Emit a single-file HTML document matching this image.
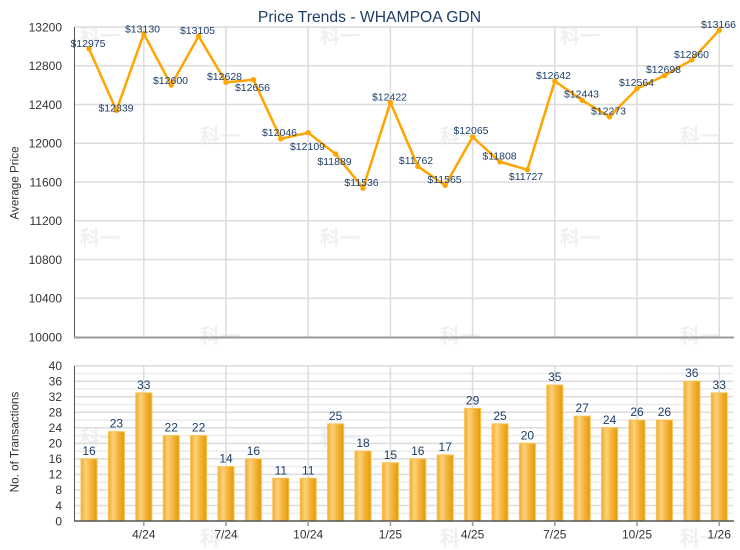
<!DOCTYPE html>
<html>
<head>
<meta charset="utf-8">
<style>
  html,body{margin:0;padding:0;background:#fff;}
  svg{display:block;}
  text{font-family:"Liberation Sans", Arial, sans-serif;}
  .wm{font-family:"Noto Sans CJK SC","WenQuanYi Zen Hei",sans-serif;font-weight:bold;font-size:20px;fill:#f0f0f0;}
  .tick{font-size:12px;fill:#333;}
  .dl{font-size:10.5px;fill:#1d3f6a;text-anchor:middle;}
  .bl{font-size:12px;fill:#1d3f6a;text-anchor:middle;}
</style>
</head>
<body>
<svg width="740" height="550" viewBox="0 0 740 550" xmlns="http://www.w3.org/2000/svg">
  <defs>
    <linearGradient id="bg" x1="0" y1="0" x2="1" y2="0">
      <stop offset="0" stop-color="#f1aa28"/>
      <stop offset="0.3" stop-color="#fdd27d"/>
      <stop offset="0.6" stop-color="#f5b53e"/>
      <stop offset="1" stop-color="#e39a08"/>
    </linearGradient>
  </defs>
  <rect x="0" y="0" width="740" height="550" fill="#fff"/>

  <!-- watermarks -->
  <g class="wm">
    <text x="80" y="43">科一</text><text x="320" y="43">科一</text><text x="560" y="43">科一</text>
    <text x="200" y="143">科一</text><text x="440" y="143">科一</text><text x="680" y="143">科一</text>
    <text x="80" y="245">科一</text><text x="320" y="245">科一</text><text x="560" y="245">科一</text>
    <text x="200" y="343">科一</text><text x="440" y="343">科一</text><text x="680" y="343">科一</text>
    <text x="80" y="445">科一</text><text x="320" y="445">科一</text><text x="560" y="445">科一</text>
    <text x="200" y="545">科一</text><text x="440" y="545">科一</text><text x="680" y="545">科一</text>
  </g>

  <!-- Title -->
  <text x="369.5" y="22" text-anchor="middle" style="font-size:15.7px;fill:#1f3d66;">Price Trends - WHAMPOA GDN</text>

  <!-- ===== TOP CHART ===== -->
  <g stroke="#dcdcdc" stroke-width="1.5">
    <line x1="74.5" y1="27" x2="733" y2="27"/>
    <line x1="74.5" y1="65.75" x2="733" y2="65.75"/>
    <line x1="74.5" y1="104.5" x2="733" y2="104.5"/>
    <line x1="74.5" y1="143.25" x2="733" y2="143.25"/>
    <line x1="74.5" y1="182" x2="733" y2="182"/>
    <line x1="74.5" y1="220.75" x2="733" y2="220.75"/>
    <line x1="74.5" y1="259.5" x2="733" y2="259.5"/>
    <line x1="74.5" y1="298.25" x2="733" y2="298.25"/>
    <line x1="143.8" y1="27" x2="143.8" y2="337"/>
    <line x1="226" y1="27" x2="226" y2="337"/>
    <line x1="308.2" y1="27" x2="308.2" y2="337"/>
    <line x1="390.4" y1="27" x2="390.4" y2="337"/>
    <line x1="472.6" y1="27" x2="472.6" y2="337"/>
    <line x1="554.8" y1="27" x2="554.8" y2="337"/>
    <line x1="637" y1="27" x2="637" y2="337"/>
    <line x1="719.2" y1="27" x2="719.2" y2="337"/>
  </g>
  <line x1="74.5" y1="27" x2="74.5" y2="337" stroke="#555" stroke-width="1"/>
  <line x1="74" y1="337.5" x2="734" y2="337.5" stroke="#999" stroke-width="2"/>

  <g class="tick" text-anchor="end">
    <text x="62" y="31.3">13200</text>
    <text x="62" y="70.05">12800</text>
    <text x="62" y="108.8">12400</text>
    <text x="62" y="147.55">12000</text>
    <text x="62" y="186.3">11600</text>
    <text x="62" y="225.05">11200</text>
    <text x="62" y="263.8">10800</text>
    <text x="62" y="302.55">10400</text>
    <text x="62" y="341.3">10000</text>
  </g>
  <text transform="translate(18.5,183) rotate(-90)" text-anchor="middle" style="font-size:11.7px;fill:#333;">Average Price</text>

  <polyline fill="none" stroke="#ffa500" stroke-width="2.5" stroke-linejoin="round"
    points="89,48.8 116.4,110.4 143.8,33.8 171.2,85.1 198.6,36.2 226,82.4 253.4,79.7 280.8,138.8 308.2,132.7 335.6,154.0 363,188.2 390.4,102.4 417.8,166.3 445.2,185.4 472.6,137.0 500,161.9 527.4,169.7 554.8,81.1 582.2,100.3 609.6,116.8 637,88.6 664.4,75.6 691.8,59.9 719.2,30.3"/>
  <g fill="#ffa500">
    <circle cx="89" cy="48.8" r="2.7"/><circle cx="116.4" cy="110.4" r="2.7"/><circle cx="143.8" cy="33.8" r="2.7"/>
    <circle cx="171.2" cy="85.1" r="2.7"/><circle cx="198.6" cy="36.2" r="2.7"/><circle cx="226" cy="82.4" r="2.7"/>
    <circle cx="253.4" cy="79.7" r="2.7"/><circle cx="280.8" cy="138.8" r="2.7"/><circle cx="308.2" cy="132.7" r="2.7"/>
    <circle cx="335.6" cy="154.0" r="2.7"/><circle cx="363" cy="188.2" r="2.7"/><circle cx="390.4" cy="102.4" r="2.7"/>
    <circle cx="417.8" cy="166.3" r="2.7"/><circle cx="445.2" cy="185.4" r="2.7"/><circle cx="472.6" cy="137.0" r="2.7"/>
    <circle cx="500" cy="161.9" r="2.7"/><circle cx="527.4" cy="169.7" r="2.7"/><circle cx="554.8" cy="81.1" r="2.7"/>
    <circle cx="582.2" cy="100.3" r="2.7"/><circle cx="609.6" cy="116.8" r="2.7"/><circle cx="637" cy="88.6" r="2.7"/>
    <circle cx="664.4" cy="75.6" r="2.7"/><circle cx="691.8" cy="59.9" r="2.7"/><circle cx="719.2" cy="30.3" r="2.7"/>
  </g>
  <g class="dl">
    <text x="88" y="47">$12975</text>
    <text x="116" y="111.5">$12339</text>
    <text x="142.5" y="32.5">$13130</text>
    <text x="170.5" y="84">$12600</text>
    <text x="197.5" y="34">$13105</text>
    <text x="224.5" y="80">$12628</text>
    <text x="252.5" y="91">$12656</text>
    <text x="279.5" y="136">$12046</text>
    <text x="307.5" y="150">$12109</text>
    <text x="334.5" y="165">$11889</text>
    <text x="361.5" y="186">$11536</text>
    <text x="389.5" y="100.5">$12422</text>
    <text x="416" y="164">$11762</text>
    <text x="444.5" y="183">$11565</text>
    <text x="471" y="134">$12065</text>
    <text x="499.5" y="159.5">$11808</text>
    <text x="526" y="180">$11727</text>
    <text x="553.5" y="79">$12642</text>
    <text x="581.5" y="97.5">$12443</text>
    <text x="608.5" y="114.5">$12273</text>
    <text x="636.5" y="86">$12564</text>
    <text x="663.5" y="73">$12698</text>
    <text x="691.5" y="58">$12860</text>
    <text x="718.5" y="28">$13166</text>
  </g>

  <!-- ===== BOTTOM CHART ===== -->
  <g stroke="#ebebeb" stroke-width="1.5">
    <line x1="74.5" y1="513.2" x2="733" y2="513.2"/>
    <line x1="74.5" y1="497.7" x2="733" y2="497.7"/>
    <line x1="74.5" y1="482.2" x2="733" y2="482.2"/>
    <line x1="74.5" y1="466.6" x2="733" y2="466.6"/>
    <line x1="74.5" y1="451.1" x2="733" y2="451.1"/>
    <line x1="74.5" y1="435.6" x2="733" y2="435.6"/>
    <line x1="74.5" y1="420.1" x2="733" y2="420.1"/>
    <line x1="74.5" y1="404.5" x2="733" y2="404.5"/>
    <line x1="74.5" y1="389.0" x2="733" y2="389.0"/>
    <line x1="74.5" y1="373.5" x2="733" y2="373.5"/>
  </g>
  <g stroke="#dcdcdc" stroke-width="1.5">
    <line x1="74.5" y1="505.5" x2="733" y2="505.5"/>
    <line x1="74.5" y1="489.9" x2="733" y2="489.9"/>
    <line x1="74.5" y1="474.4" x2="733" y2="474.4"/>
    <line x1="74.5" y1="458.9" x2="733" y2="458.9"/>
    <line x1="74.5" y1="443.35" x2="733" y2="443.35"/>
    <line x1="74.5" y1="427.8" x2="733" y2="427.8"/>
    <line x1="74.5" y1="412.3" x2="733" y2="412.3"/>
    <line x1="74.5" y1="396.8" x2="733" y2="396.8"/>
    <line x1="74.5" y1="381.2" x2="733" y2="381.2"/>
    <line x1="74.5" y1="365.7" x2="733" y2="365.7"/>
    <line x1="143.8" y1="365.7" x2="143.8" y2="521"/>
    <line x1="226" y1="365.7" x2="226" y2="521"/>
    <line x1="308.2" y1="365.7" x2="308.2" y2="521"/>
    <line x1="390.4" y1="365.7" x2="390.4" y2="521"/>
    <line x1="472.6" y1="365.7" x2="472.6" y2="521"/>
    <line x1="554.8" y1="365.7" x2="554.8" y2="521"/>
    <line x1="637" y1="365.7" x2="637" y2="521"/>
    <line x1="719.2" y1="365.7" x2="719.2" y2="521"/>
  </g>

  <g fill="url(#bg)" stroke="#f8c24c" stroke-width="1">
    <rect x="81" y="458.9" width="16" height="62.1"/>
    <rect x="108.4" y="431.7" width="16" height="89.3"/>
    <rect x="135.8" y="392.9" width="16" height="128.1"/>
    <rect x="163.2" y="435.6" width="16" height="85.4"/>
    <rect x="190.6" y="435.6" width="16" height="85.4"/>
    <rect x="218" y="466.6" width="16" height="54.4"/>
    <rect x="245.4" y="458.9" width="16" height="62.1"/>
    <rect x="272.8" y="478.3" width="16" height="42.7"/>
    <rect x="300.2" y="478.3" width="16" height="42.7"/>
    <rect x="327.6" y="423.9" width="16" height="97.1"/>
    <rect x="355" y="451.1" width="16" height="69.9"/>
    <rect x="382.4" y="462.8" width="16" height="58.2"/>
    <rect x="409.8" y="458.9" width="16" height="62.1"/>
    <rect x="437.2" y="455.0" width="16" height="66.0"/>
    <rect x="464.6" y="408.4" width="16" height="112.6"/>
    <rect x="492" y="423.9" width="16" height="97.1"/>
    <rect x="519.4" y="443.35" width="16" height="77.65"/>
    <rect x="546.8" y="385.1" width="16" height="135.9"/>
    <rect x="574.2" y="416.2" width="16" height="104.8"/>
    <rect x="601.6" y="427.8" width="16" height="93.2"/>
    <rect x="629" y="420.1" width="16" height="100.9"/>
    <rect x="656.4" y="420.1" width="16" height="100.9"/>
    <rect x="683.8" y="381.2" width="16" height="139.8"/>
    <rect x="711.2" y="392.9" width="16" height="128.1"/>
  </g>

  <g class="bl">
    <text x="89" y="455">16</text>
    <text x="116.4" y="427.7">23</text>
    <text x="143.8" y="388.9">33</text>
    <text x="171.2" y="431.6">22</text>
    <text x="198.6" y="431.6">22</text>
    <text x="226" y="462.6">14</text>
    <text x="253.4" y="455">16</text>
    <text x="280.8" y="474.3">11</text>
    <text x="308.2" y="474.3">11</text>
    <text x="335.6" y="419.9">25</text>
    <text x="363" y="447.1">18</text>
    <text x="390.4" y="458.8">15</text>
    <text x="417.8" y="455">16</text>
    <text x="445.2" y="451">17</text>
    <text x="472.6" y="404.4">29</text>
    <text x="500" y="419.9">25</text>
    <text x="527.4" y="439.35">20</text>
    <text x="554.8" y="381.1">35</text>
    <text x="582.2" y="412.2">27</text>
    <text x="609.6" y="423.8">24</text>
    <text x="637" y="416.1">26</text>
    <text x="664.4" y="416.1">26</text>
    <text x="691.8" y="377.2">36</text>
    <text x="719.2" y="388.9">33</text>
  </g>

  <line x1="74.5" y1="365.7" x2="74.5" y2="521" stroke="#555" stroke-width="1"/>
  <line x1="74" y1="521" x2="734" y2="521" stroke="#555" stroke-width="1.5"/>
  <g stroke="#999" stroke-width="1.5">
    <line x1="143.8" y1="521" x2="143.8" y2="526"/>
    <line x1="226" y1="521" x2="226" y2="526"/>
    <line x1="308.2" y1="521" x2="308.2" y2="526"/>
    <line x1="390.4" y1="521" x2="390.4" y2="526"/>
    <line x1="472.6" y1="521" x2="472.6" y2="526"/>
    <line x1="554.8" y1="521" x2="554.8" y2="526"/>
    <line x1="637" y1="521" x2="637" y2="526"/>
    <line x1="719.2" y1="521" x2="719.2" y2="526"/>
  </g>

  <g class="tick" text-anchor="end">
    <text x="62" y="525.3">0</text>
    <text x="62" y="509.8">4</text>
    <text x="62" y="494.2">8</text>
    <text x="62" y="478.7">12</text>
    <text x="62" y="463.2">16</text>
    <text x="62" y="447.65">20</text>
    <text x="62" y="432.1">24</text>
    <text x="62" y="416.6">28</text>
    <text x="62" y="401.1">32</text>
    <text x="62" y="385.5">36</text>
    <text x="62" y="370">40</text>
  </g>
  <text transform="translate(18.5,442) rotate(-90)" text-anchor="middle" style="font-size:11.7px;fill:#333;">No. of Transactions</text>

  <g class="tick" text-anchor="middle">
    <text x="143.8" y="538.5">4/24</text>
    <text x="226" y="538.5">7/24</text>
    <text x="308.2" y="538.5">10/24</text>
    <text x="390.4" y="538.5">1/25</text>
    <text x="472.6" y="538.5">4/25</text>
    <text x="554.8" y="538.5">7/25</text>
    <text x="637" y="538.5">10/25</text>
    <text x="719.2" y="538.5">1/26</text>
  </g>
</svg>
</body>
</html>
